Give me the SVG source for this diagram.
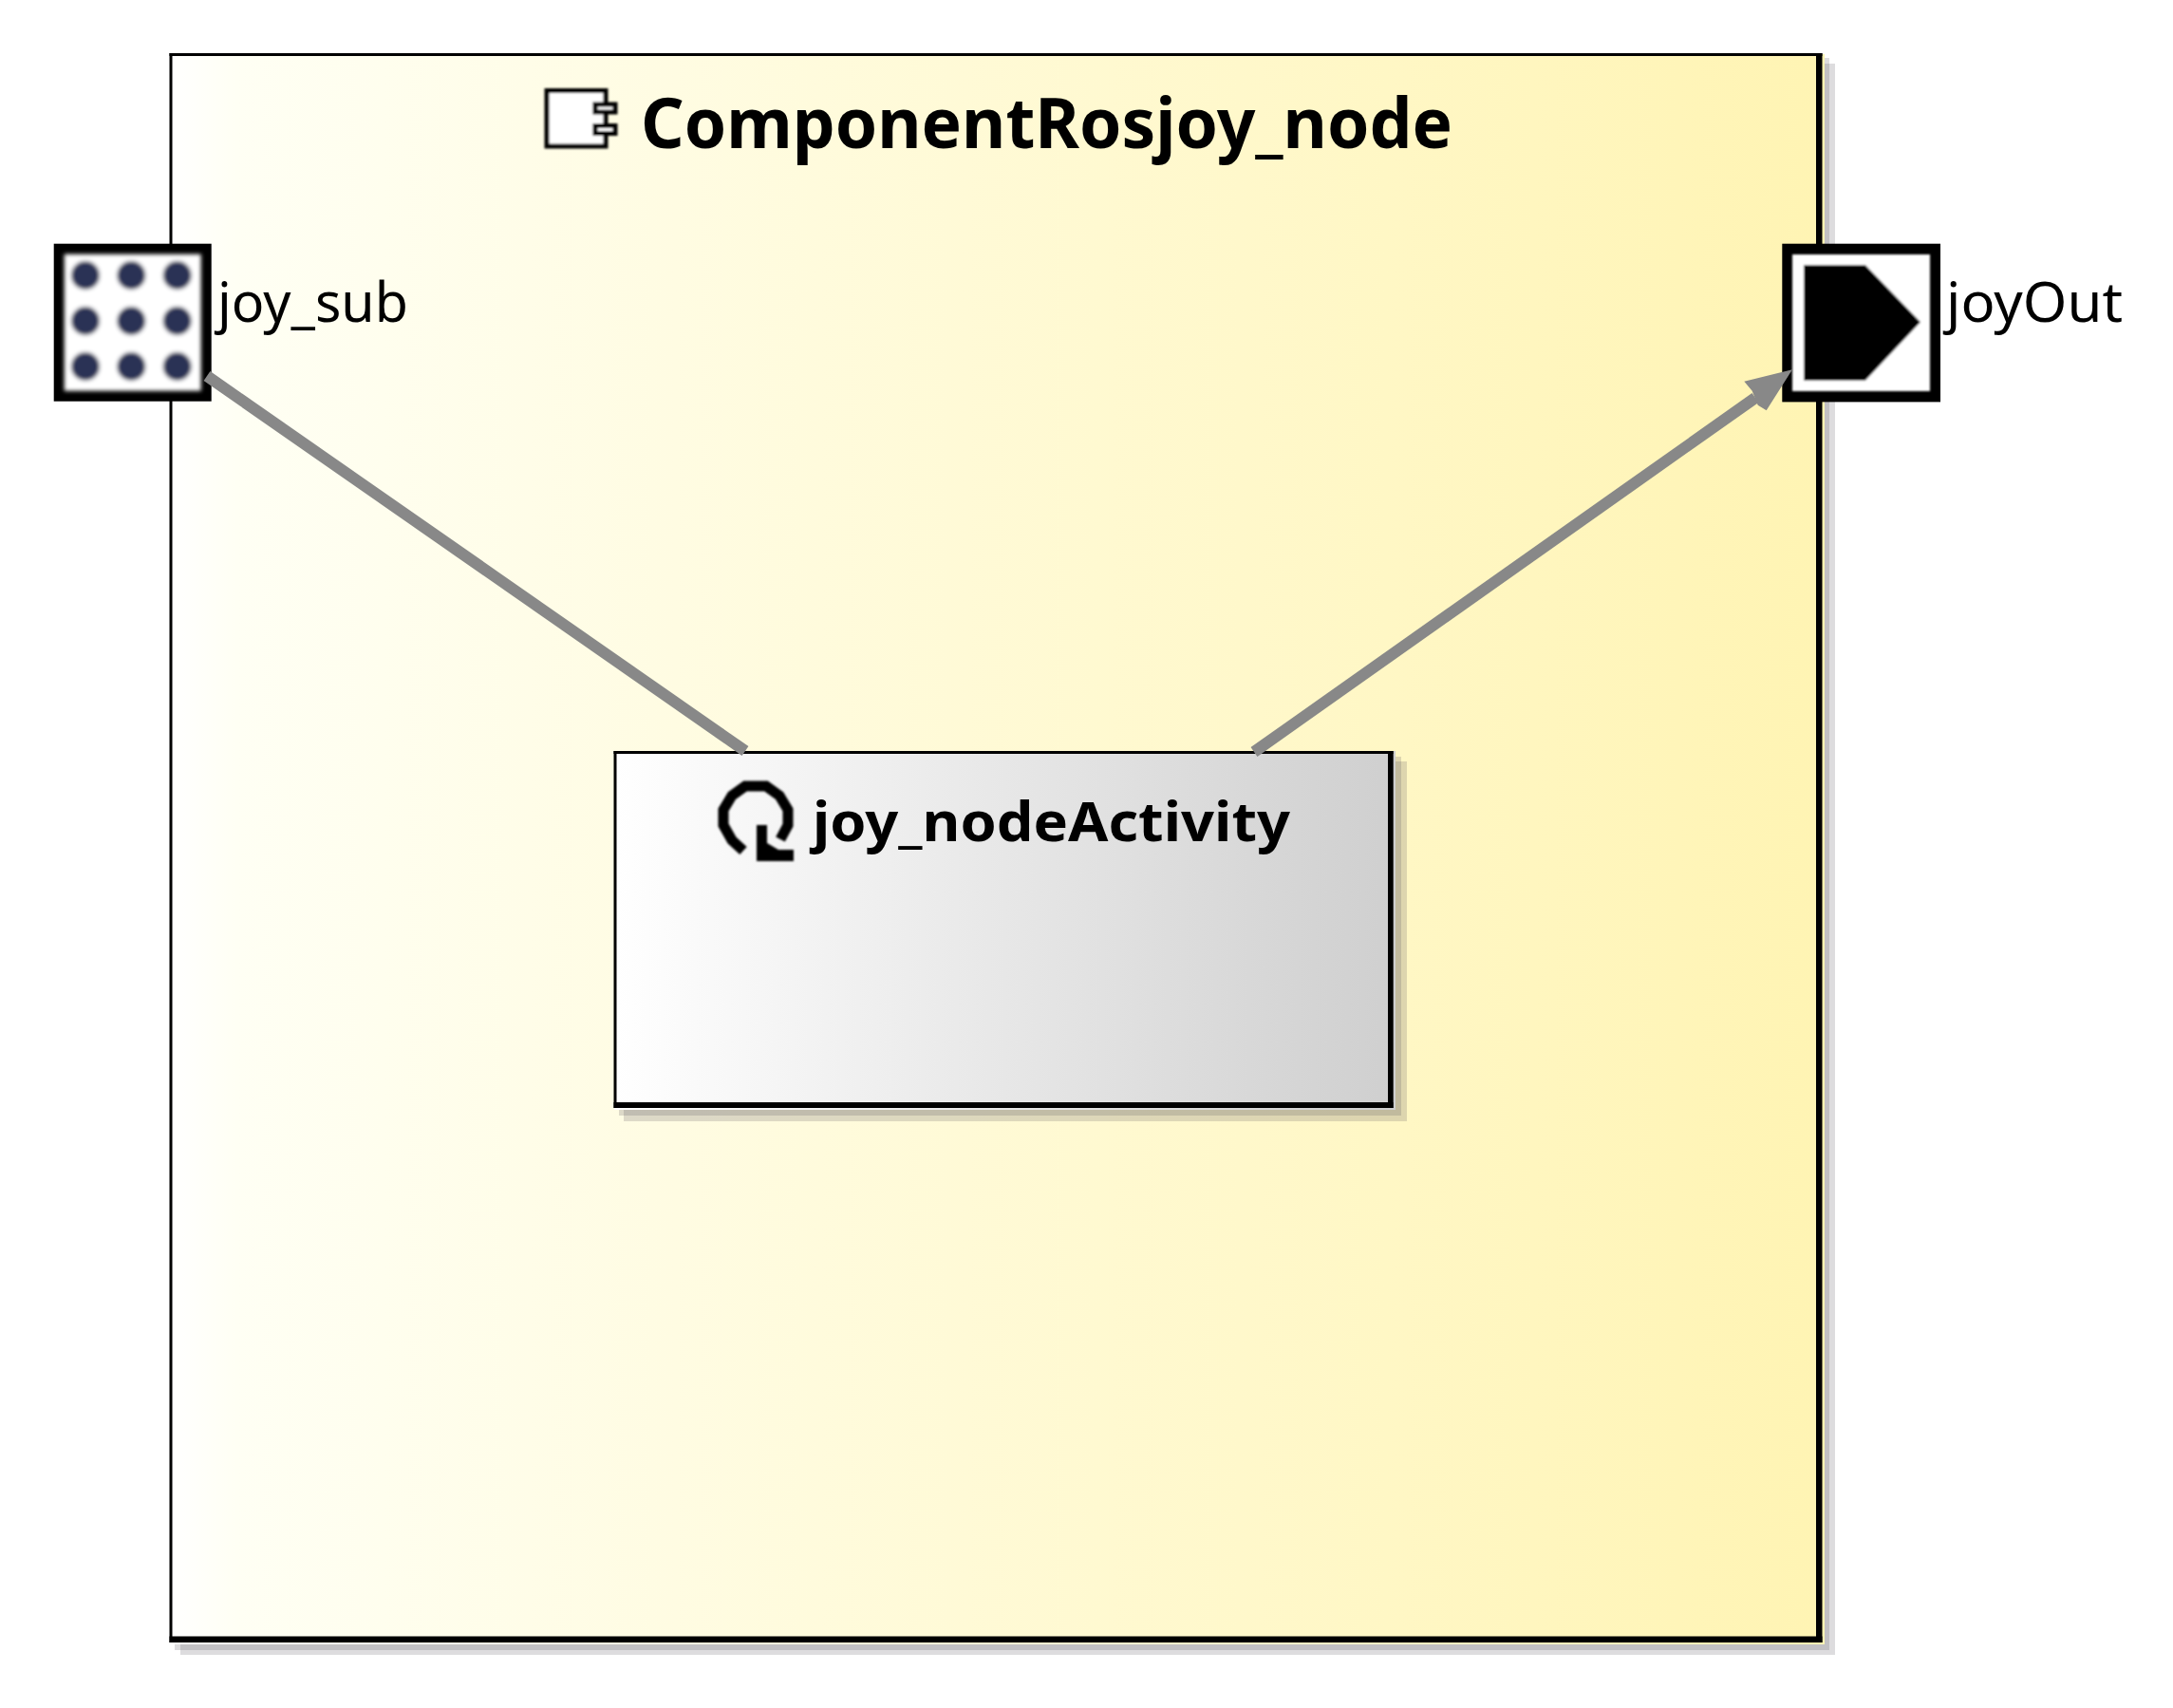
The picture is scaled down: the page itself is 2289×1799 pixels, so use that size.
<svg xmlns="http://www.w3.org/2000/svg" width="2289" height="1799" viewBox="0 0 2289 1799">
<style>
.t{font-family:"Noto Sans","Open Sans","DejaVu Sans",sans-serif;fill:#000}
.b{font-weight:700}
.sh{fill:#555058;fill-opacity:.2}
.k{fill:#000}
.c{stroke:#888888;stroke-width:12;fill:none}
.d{fill:#2a3355}
</style>
<defs>
<linearGradient id="gy"><stop offset="0" stop-color="#ffffff"/><stop offset="0.04" stop-color="#fffff4"/><stop offset="1" stop-color="#fff4b3"/></linearGradient>
<linearGradient id="gg"><stop offset="0" stop-color="#ffffff"/><stop offset="1" stop-color="#cfcfcf"/></linearGradient>
<filter id="bl" x="-20%" y="-20%" width="140%" height="140%"><feGaussianBlur stdDeviation="2"/></filter>
<filter id="bs" x="-20%" y="-20%" width="140%" height="140%"><feGaussianBlur stdDeviation="1"/></filter>
</defs>
<g id="ComponentRosjoy_node">
<rect class="sh" x="184" y="61" width="1743" height="1677"/>
<rect class="sh" x="190" y="67" width="1743" height="1676"/>
<rect x="179" y="57" width="1743" height="1675" fill="url(#gy)"/>
<rect class="k" x="178.5" y="56" width="1741" height="3"/>
<rect class="k" x="178.5" y="56" width="3" height="1674"/>
<rect class="k" x="1913" y="56" width="6.5" height="1674"/>
<rect class="k" x="178.5" y="1723.5" width="1741" height="6.5"/>
<g filter="url(#bs)">
<rect x="576" y="95.5" width="62" height="58.5" fill="#fff" stroke="#000" stroke-width="5"/>
<rect x="627" y="110" width="21" height="8" fill="#fff" stroke="#000" stroke-width="5"/>
<rect x="627" y="132.5" width="21" height="8" fill="#fff" stroke="#000" stroke-width="5"/>
</g>
<text class="t b" x="675" y="156" font-size="74" textLength="855" lengthAdjust="spacingAndGlyphs">ComponentRosjoy_node</text>
</g>
<g id="joy_nodeActivity">
<rect class="sh" x="652" y="797" width="824" height="378"/>
<rect class="sh" x="657" y="802" width="825" height="379"/>
<rect x="647" y="791" width="823" height="378" fill="url(#gg)"/>
<rect class="k" x="646.5" y="791" width="821" height="3"/>
<rect class="k" x="646.5" y="791" width="3" height="376"/>
<rect class="k" x="1462" y="791" width="5.7" height="376"/>
<rect class="k" x="646.5" y="1161" width="821" height="6"/>
<g filter="url(#bs)">
<path d="M783 896 L771 885 L762 869 L762 853 L771 838 L785 828 L807 828 L821 838 L830 853 L830 869 L822 884" fill="none" stroke="#000" stroke-width="11"/>
<polygon points="797,869 808,869 808,888 820,895 836,895 836,907 797,907" class="k"/>
</g>
<text class="t b" x="856" y="886" font-size="57" textLength="503" lengthAdjust="spacingAndGlyphs">joy_nodeActivity</text>
</g>
<g id="joy_sub">
<rect class="k" x="56.7" y="256.7" width="166" height="166"/>
<g filter="url(#bl)">
<rect x="67.7" y="267.7" width="144" height="144" fill="#fff"/>
<circle class="d" cx="90" cy="290" r="15"/><circle class="d" cx="138.3" cy="290" r="15"/><circle class="d" cx="186.7" cy="290" r="15"/>
<circle class="d" cx="90" cy="338" r="15"/><circle class="d" cx="138.3" cy="338" r="15"/><circle class="d" cx="186.7" cy="338" r="15"/>
<circle class="d" cx="90" cy="386" r="15"/><circle class="d" cx="138.3" cy="386" r="15"/><circle class="d" cx="186.7" cy="386" r="15"/>
</g>
<text class="t" x="229" y="339" font-size="58" textLength="201" lengthAdjust="spacingAndGlyphs">joy_sub</text>
</g>
<g id="joyOut">
<rect class="k" x="1877.3" y="256.7" width="166.7" height="166.7"/>
<g filter="url(#bs)">
<rect x="1888" y="268" width="145" height="144" fill="#fff"/>
<polygon class="k" points="1900,279.3 1965,279.3 2023,339.3 1965,400.7 1900,400.7"/>
</g>
<text class="t" x="2050" y="339" font-size="58" textLength="186" lengthAdjust="spacingAndGlyphs">joyOut</text>
</g>
<g id="connectors">
<line class="c" x1="218" y1="396" x2="785" y2="791"/>
<line class="c" x1="1321" y1="792" x2="1849" y2="419"/>
<polygon fill="#888888" points="1888,389.3 1837.3,401.7 1845.7,411.7 1851.7,426.7 1860.7,432.3"/>
</g>
</svg>
